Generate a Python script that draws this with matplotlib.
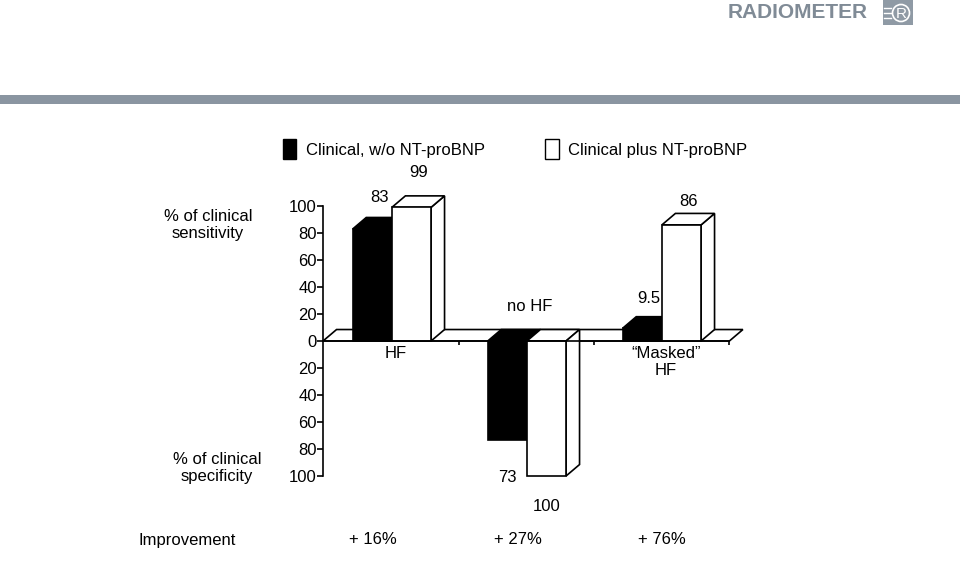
"""
Pseudo-3D bar chart: clinical sensitivity / specificity with and without NT-proBNP.
"""

import matplotlib
matplotlib.use("Agg")
import matplotlib.pyplot as plt
from matplotlib.patches import Polygon, Rectangle, Ellipse, Patch

plt.rcParams["font.family"] = ["Liberation Sans", "DejaVu Sans"]
plt.rcParams["font.size"] = 12

# data
categories = ["HF", "no HF", "\u201cMasked\u201d\nHF"]
measure_sign = [1, -1, 1]          # +1 = sensitivity (up), -1 = specificity (down)
clinical = [83, 73, 9.5]
clinical_bnp = [99, 100, 86]
clinical_labels = ["83", "73", "9.5"]
clinical_bnp_labels = ["99", "100", "86"]
improvement = ["+ 16%", "+ 27%", "+ 76%"]
series_names = ["Clinical, w/o NT-proBNP", "Clinical plus NT-proBNP"]
ytick_values = [-100, -80, -60, -40, -20, 0, 20, 40, 60, 80, 100]

# label gaps in points (style only)
clinical_gap = [9, 22, 7.4]
clinical_bnp_gap = [11.7, 16.3, 3.1]

W, H = 960, 561
BAR_W = 0.29
DX, DY = 0.1, 8.5       # depth offset of the fake 3D boxes (data units)
X_START, X_END = 0.49, 3.5
LOGO_GRAY = "#808b96"
LOGO_BOX = "#8f9aa5"


def fx(px):
    return px / W


def fy(py):
    return 1 - py / H


def draw_box(ax, x, v, color):
    w = BAR_W
    if v >= 0:
        front = Rectangle((x, 0), w, v)
        top = Polygon([(x, v), (x + w, v), (x + w + DX, v + DY), (x + DX, v + DY)])
        side = Polygon([(x + w, 0), (x + w + DX, DY), (x + w + DX, v + DY), (x + w, v)])
        parts = [side, top, front]
    else:
        front = Rectangle((x, v), w, -v)
        top = Polygon([(x, 0), (x + w, 0), (x + w + DX, DY), (x + DX, DY)])
        side = Polygon([(x + w, v), (x + w + DX, v + DY), (x + w + DX, DY), (x + w, 0)])
        parts = [top, side, front]
    for p in parts:
        p.set_facecolor(color)
        p.set_edgecolor("black")
        p.set_linewidth(1.2)
        p.set_joinstyle("miter")
        p.set_zorder(2)
        ax.add_patch(p)


def main():
    fig = plt.figure(figsize=(W / 100, H / 100), dpi=100)

    # header band and logo
    fig.add_artist(Rectangle((0, fy(104)), 1, 9 / H, transform=fig.transFigure,
                             facecolor="#8a95a1", edgecolor="none"))
    fig.text(fx(728), fy(13), "RADIOMETER", ha="left", va="center",
             fontsize=15, fontweight="bold", color=LOGO_GRAY)
    fig.add_artist(Rectangle((fx(883), fy(25)), 30 / W, 25 / H, transform=fig.transFigure,
                             facecolor=LOGO_BOX, edgecolor="none"))
    for yy in (8, 13, 18):
        fig.add_artist(plt.Line2D([fx(884), fx(891)], [fy(yy), fy(yy)],
                                  transform=fig.transFigure, color="white",
                                  linewidth=1))
    fig.add_artist(Ellipse((fx(901), fy(13)), 17 / W, 17 / H, transform=fig.transFigure,
                           facecolor=LOGO_BOX, edgecolor="white", linewidth=1.2))
    fig.text(fx(901), fy(13.5), "R", ha="center", va="center", fontsize=11,
             color="white")

    # chart axes: x in category units, y in percent (135 px per 100 %)
    ax = fig.add_axes([fx(297.4), fy(516.5), 472.5 / W, 351 / H])
    ax.set_xlim(0.3, 3.8)
    ax.set_ylim(-130, 130)
    ax.patch.set_alpha(0)

    for s in ["top", "right"]:
        ax.spines[s].set_visible(False)
    ax.spines["left"].set_position(("data", X_START))
    ax.spines["left"].set_bounds(-100, 100)
    ax.spines["bottom"].set_position(("data", 0))
    ax.spines["bottom"].set_bounds(X_START, X_END)
    for s in ["left", "bottom"]:
        ax.spines[s].set_linewidth(1.2)

    ax.set_yticks(ytick_values)
    ax.set_yticklabels([str(abs(v)) for v in ytick_values])
    ax.tick_params(axis="y", length=4, width=1.2, pad=0.5, labelsize=12)
    ax.set_xticks([1.5, 2.5, 3.5])
    ax.set_xticklabels([])
    ax.tick_params(axis="x", length=3, width=1.2, direction="out")

    # floor
    floor = Polygon([(X_START, 0), (X_END, 0), (X_END + DX, DY), (X_START + DX, DY)],
                    facecolor="white", edgecolor="black", linewidth=1.2, zorder=1)
    ax.add_patch(floor)

    for i, name in enumerate(categories):
        c = i + 1
        sign = measure_sign[i]
        v1 = sign * clinical[i]
        v2 = sign * clinical_bnp[i]
        draw_box(ax, c - BAR_W, v1, "black")
        draw_box(ax, c, v2, "white")

        for x0, v, lab, gap in [(c - BAR_W, v1, clinical_labels[i], clinical_gap[i]),
                                (c, v2, clinical_bnp_labels[i], clinical_bnp_gap[i])]:
            xc = x0 + BAR_W / 2
            if v >= 0:
                ax.annotate(lab, (xc + DX / 2, v + DY), xytext=(0, gap),
                            textcoords="offset points", ha="center", va="bottom",
                            fontsize=12, annotation_clip=False)
            else:
                ax.annotate(lab, (xc, v), xytext=(0, -gap),
                            textcoords="offset points", ha="center", va="top",
                            fontsize=12, annotation_clip=False)

        if sign > 0:
            ax.text(c + 0.03, -4, name, ha="center", va="top", fontsize=12,
                    linespacing=1.1)
        else:
            ax.text(c + 0.02, 20, name, ha="center", va="bottom", fontsize=12)

        ax.text(c - 0.14 + 0.07 * i, -147, improvement[i], ha="center",
                va="center", fontsize=12, clip_on=False)

    fig.text(fx(139), fy(540), "Improvement", ha="left", va="center", fontsize=12)
    fig.text(fx(208), fy(225), "% of clinical\nsensitivity", ha="center",
             va="center", fontsize=12, linespacing=1.15)
    fig.text(fx(217), fy(468), "% of clinical\nspecificity", ha="center",
             va="center", fontsize=12, linespacing=1.15)

    handles = [Patch(facecolor="black", edgecolor="black"),
               Patch(facecolor="white", edgecolor="black")]
    fig.legend(handles, series_names, loc="center left", ncol=2,
               bbox_to_anchor=(fx(283), fy(149)), bbox_transform=fig.transFigure,
               frameon=False, fontsize=12, handlelength=0.8, handleheight=1.4,
               handletextpad=0.55, columnspacing=3.64, borderpad=0,
               borderaxespad=0)

    fig.savefig("out.png", dpi=100)
    plt.close(fig)


if __name__ == "__main__":
    main()
